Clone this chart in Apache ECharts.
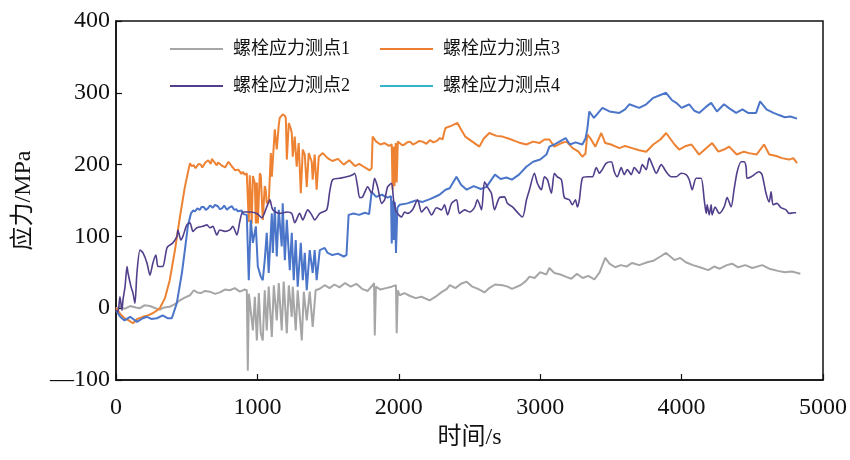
<!DOCTYPE html>
<html>
<head>
<meta charset="utf-8">
<style>
  html, body { margin: 0; padding: 0; background: #fff; }
  #chart { width: 850px; height: 460px; }
</style>
<script src="https://cdn.jsdelivr.net/npm/echarts@6/dist/echarts.min.js"></script>
</head>
<body>
<div id="chart"></div>
<script>
// Series names (legend order: 1, 3 on the first row; 2, 4 on the second)
const names = ['螺栓应力测点1', '螺栓应力测点2', '螺栓应力测点3', '螺栓应力测点4'];

// Axis ticks
const xTicks = [0, 1000, 2000, 3000, 4000, 5000];
const yTicks = [-100, 0, 100, 200, 300, 400];

// Bolt stress readings: [time (s), stress (MPa)]
const point1 = [
  [0,0],[30,2],[60,-1],[100,3],[140,1],[170,0],[200,4],[240,3],[280,0],[310,-2],[340,1],[380,2],
  [420,6],[452,11],[490,15],[523,18],[550,25],[575,22],[600,21],[630,24],[664,23],[700,20],[734,22],
  [770,26],[805,25],[840,28],[876,23],[910,26],[925,25],[932,-87],[940,20],[953,21],[968,-31],[982,16],
  [996,-45],[1010,21],[1024,-35],[1038,-45],[1052,25],[1066,-31],[1080,30],[1102,-40],[1116,32],
  [1137,-17],[1151,35],[1172,-31],[1186,37],[1208,-35],[1222,32],[1243,-12],[1250,30],[1271,-31],
  [1285,25],[1314,-45],[1328,23],[1349,-17],[1370,23],[1391,-26],[1412,25],[1441,27],[1476,32],
  [1510,28],[1545,33],[1580,29],[1620,35],[1660,30],[1700,34],[1740,27],[1780,24],[1815,32],[1825,35],
  [1830,-38],[1838,30],[1870,26],[1910,28],[1950,30],[1980,32],[1985,-35],[1993,25],[2006,18],[2040,21],
  [2080,17],[2120,14],[2160,16],[2218,11],[2260,16],[2300,22],[2340,27],[2360,32],[2400,28],[2440,34],
  [2480,37],[2520,30],[2560,27],[2606,22],[2640,28],[2680,33],[2733,32],[2770,30],[2800,27],[2860,32],
  [2900,38],[2924,44],[2960,42],[3000,50],[3044,47],[3065,56],[3100,49],[3143,47],[3180,44],[3220,41],
  [3260,48],[3300,42],[3340,45],[3383,40],[3420,50],[3460,70],[3490,62],[3530,57],[3570,60],[3610,58],
  [3650,63],[3700,60],[3757,64],[3800,66],[3850,72],[3890,77],[3920,72],[3950,67],[3990,70],[4030,64],
  [4080,60],[4130,57],[4188,53],[4230,58],[4270,55],[4320,60],[4357,62],[4400,57],[4450,60],[4500,56],
  [4570,60],[4620,55],[4680,52],[4730,50],[4780,51],[4840,48]
];

const point2 = [
  [0,-3],[14,-5],[28,16],[42,-3],[49,11],[64,30],[78,58],[85,49],[106,30],[120,21],[134,7],[148,49],
  [170,81],[191,77],[219,63],[240,46],[261,63],[282,74],[297,58],[325,58],[332,58],[360,84],[381,88],
  [403,91],[431,100],[438,109],[459,95],[473,100],[501,116],[523,119],[544,107],[572,112],[614,114],
  [643,116],[664,112],[685,114],[713,102],[734,109],[770,107],[805,109],[826,114],[855,102],[876,121],
  [897,134],[946,134],[996,132],[1031,126],[1066,141],[1088,151],[1109,137],[1158,132],[1208,134],
  [1243,132],[1264,119],[1299,132],[1321,123],[1356,137],[1384,130],[1405,123],[1441,132],[1490,137],
  [1511,162],[1532,179],[1582,181],[1631,183],[1674,186],[1688,188],[1709,169],[1723,154],[1744,155],
  [1780,169],[1808,160],[1829,181],[1850,169],[1879,146],[1900,151],[1921,169],[1949,174],[1963,151],
  [1984,134],[2020,127],[2041,134],[2062,132],[2097,137],[2133,151],[2161,134],[2196,141],[2232,130],
  [2267,140],[2302,137],[2323,144],[2345,130],[2373,146],[2408,151],[2429,132],[2465,137],[2500,134],
  [2535,140],[2556,151],[2585,137],[2606,176],[2627,169],[2655,160],[2677,137],[2712,154],[2747,155],
  [2768,146],[2804,141],[2874,127],[2903,151],[2924,165],[2959,188],[2980,174],[3008,165],[3030,183],
  [3051,179],[3079,160],[3100,188],[3121,183],[3150,179],[3171,154],[3206,151],[3227,144],[3249,151],
  [3263,141],[3277,151],[3298,181],[3333,183],[3369,183],[3397,196],[3418,188],[3439,193],[3467,202],
  [3503,204],[3524,190],[3545,183],[3573,196],[3594,186],[3616,193],[3644,186],[3665,196],[3701,188],
  [3722,200],[3750,193],[3771,209],[3792,200],[3821,188],[3856,200],[3891,190],[3927,183],[3962,183],
  [3997,188],[4032,186],[4054,179],[4075,165],[4103,181],[4138,181],[4160,151],[4174,132],[4181,144],
  [4195,130],[4209,144],[4216,130],[4237,141],[4266,132],[4301,141],[4322,154],[4350,141],[4371,165],
  [4393,190],[4421,204],[4442,204],[4456,197],[4463,181],[4492,183],[4548,190],[4569,186],[4597,160],
  [4619,148],[4633,162],[4647,144],[4675,146],[4703,140],[4739,137],[4760,132],[4795,133],[4810,133]
];

const point3 = [
  [0,0],[30,-8],[60,-14],[90,-17],[120,-21],[150,-15],[190,-12],[225,-10],[260,-7],[290,-3],[310,0],
  [346,14],[380,39],[417,81],[452,127],[487,169],[523,202],[535,198],[550,199],[562,195],[572,197],
  [585,201],[600,200],[610,196],[620,198],[632,203],[642,202],[652,206],[660,205],[670,201],[678,208],
  [690,205],[700,203],[712,199],[722,203],[734,204],[746,199],[760,201],[772,196],[784,200],[795,204],
  [805,204],[818,198],[830,195],[842,192],[854,190],[865,193],[876,191],[887,187],[897,190],[910,186],
  [925,188],[932,190],[939,120],[946,185],[953,183],[960,118],[968,184],[982,174],
  [989,118],[996,175],[1003,118],[1017,188],[1024,185],[1038,123],[1052,170],[1059,165],[1066,146],
  [1073,150],[1080,146],[1095,216],[1102,183],[1123,249],[1137,221],[1151,255],[1158,265],[1179,270],
  [1194,268],[1201,265],[1208,207],[1222,258],[1236,250],[1243,244],[1250,211],[1264,239],[1278,197],
  [1292,230],[1307,160],[1321,221],[1335,214],[1349,169],[1363,216],[1384,204],[1391,179],[1405,214],
  [1419,165],[1434,211],[1462,216],[1497,209],[1530,205],[1570,208],[1610,200],[1650,206],[1690,198],
  [1720,201],[1760,196],[1794,192],[1808,195],[1815,239],[1840,232],[1870,228],[1900,230],[1930,226],
  [1950,228],[1956,165],[1963,225],[1970,170],[1978,230],[1985,175],[1993,232],[2006,230],[2025,227],
  [2040,228],[2060,231],[2080,232],[2100,228],[2120,230],[2145,233],[2168,232],[2195,229],[2220,234],
  [2245,231],[2270,233],[2290,237],[2310,235],[2320,244],[2330,251],[2370,254],[2415,258],
  [2440,249],[2470,239],[2520,232],[2570,225],[2600,236],[2640,244],[2690,240],[2733,239],[2780,236],
  [2820,233],[2860,230],[2902,228],[2950,232],[2994,230],[3030,235],[3065,235],[3100,225],[3150,230],
  [3185,232],[3230,223],[3270,218],[3298,211],[3320,215],[3333,242],[3360,235],[3390,225],[3432,244],
  [3460,230],[3500,228],[3560,223],[3600,226],[3650,223],[3700,220],[3750,218],[3800,228],[3850,235],
  [3891,244],[3920,236],[3950,228],[3983,221],[4030,226],[4070,228],[4124,214],[4170,222],[4216,230],
  [4260,218],[4300,221],[4336,225],[4390,214],[4440,218],[4477,216],[4530,214],[4583,228],[4620,214],
  [4670,212],[4710,209],[4760,207],[4790,209],[4816,202]
];

const point4 = [
  [0,-3],[30,-12],[60,-17],[100,-12],[148,-19],[190,-14],[219,-12],[250,-15],[290,-14],[330,-10],
  [367,-14],[395,-14],[430,7],[466,49],[487,81],[508,114],[530,132],[545,136],[560,135],[575,139],
  [593,137],[605,141],[620,141],[635,137],[650,139],[665,143],[685,140],[700,144],[720,142],[735,138],
  [750,139],[765,143],[784,137],[800,140],[820,142],[835,137],[850,138],[862,135],[876,134],[888,136],
  [900,131],[912,129],[925,130],
  [932,132],[939,39],[953,123],[968,91],[989,114],[1003,58],[1024,44],[1038,39],[1052,67],[1066,105],
  [1080,49],[1102,132],[1109,77],[1123,141],[1137,72],[1151,137],[1172,86],[1179,146],[1194,67],
  [1208,123],[1229,53],[1243,105],[1257,39],[1271,95],[1285,30],[1307,91],[1321,39],[1335,77],[1349,25],
  [1370,81],[1391,49],[1405,81],[1419,39],[1441,81],[1476,84],[1497,77],[1530,74],[1570,76],[1610,72],
  [1630,74],[1645,130],[1680,132],[1720,130],[1760,133],[1790,131],[1808,162],[1840,155],[1880,158],
  [1920,154],[1945,156],[1950,90],[1958,150],[1965,95],[1972,148],[1980,77],[1990,140],[2006,144],
  [2060,146],[2120,150],[2168,148],[2220,152],[2288,158],[2330,165],[2360,167],[2408,183],[2440,172],
  [2480,165],[2530,170],[2580,166],[2620,169],[2680,186],[2720,180],[2761,182],[2800,179],[2850,186],
  [2902,197],[2950,204],[3000,207],[3044,214],[3065,225],[3100,228],[3136,232],[3180,237],[3210,228],
  [3250,231],[3298,228],[3320,236],[3333,249],[3347,274],[3380,265],[3440,279],[3490,274],[3560,272],
  [3600,277],[3630,284],[3700,279],[3750,284],[3800,293],[3850,297],[3890,300],[3930,290],[3962,286],
  [4000,279],[4032,282],[4054,284],[4090,275],[4124,272],[4170,280],[4209,286],[4250,274],[4300,284],
  [4340,278],[4386,272],[4430,277],[4470,272],[4527,272],[4555,288],[4600,277],[4650,272],[4689,269],
  [4730,266],[4770,267],[4816,264]
];

const serif = '"Liberation Serif", "Times New Roman", "Noto Sans CJK SC", serif';

const chart = echarts.init(document.getElementById('chart'), null, { renderer: 'canvas' });

const legendBase = {
  left: 165,
  icon: 'rect',
  itemWidth: 53,
  itemHeight: 2,
  itemGap: 30,
  textStyle: { fontFamily: serif, fontSize: 18, color: '#111', padding: [0, 0, 0, 5] }
};

chart.setOption({
  animation: false,
  backgroundColor: '#fff',
  grid: {
    left: 116, right: 24, top: 21, bottom: 80,
    show: true, borderColor: '#111', borderWidth: 1.5, backgroundColor: 'transparent'
  },
  legend: [
    Object.assign({}, legendBase, { top: 35, data: [names[0], names[2]] }),
    Object.assign({}, legendBase, {
      top: 72,
      data: [names[1], { name: names[3], itemStyle: { color: '#35b3c8' } }]
    })
  ],
  xAxis: {
    type: 'value',
    min: xTicks[0], max: xTicks[xTicks.length - 1], interval: 1000,
    name: '时间/s', nameLocation: 'middle', nameGap: 46,
    nameTextStyle: { fontFamily: serif, fontSize: 24, color: '#111' },
    axisLine: { show: true, onZero: false, lineStyle: { color: '#111', width: 1.5 } },
    axisTick: { show: true, inside: true, length: 6, lineStyle: { color: '#111', width: 1.2 } },
    axisLabel: { margin: 16, fontFamily: serif, fontSize: 24, color: '#111', formatter: v => String(v) },
    splitLine: { show: false }
  },
  yAxis: {
    type: 'value',
    min: yTicks[0], max: yTicks[yTicks.length - 1], interval: 100,
    name: '应力/MPa', nameLocation: 'middle', nameGap: 80, nameRotate: 90,
    nameTextStyle: { fontFamily: serif, fontSize: 24, color: '#111' },
    axisLine: { show: true, onZero: false, lineStyle: { color: '#111', width: 1.5 } },
    axisTick: { show: true, inside: true, length: 6, lineStyle: { color: '#111', width: 1.2 } },
    axisLabel: {
      margin: 6, fontFamily: serif, fontSize: 24, color: '#111',
      formatter: v => (v < 0 ? '—' + Math.abs(v) : String(v))
    },
    splitLine: { show: false }
  },
  series: [
    { name: names[0], type: 'line', data: point1, showSymbol: false, z: 2,
      color: '#a6a6a6', lineStyle: { width: 2, color: '#a6a6a6' } },
    { name: names[2], type: 'line', data: point3, showSymbol: false, z: 3,
      color: '#ed7d31', lineStyle: { width: 2, color: '#ee8233' } },
    { name: names[3], type: 'line', data: point4, showSymbol: false, z: 4,
      color: '#35b3c8', lineStyle: { width: 2, color: '#4a75c9' } },
    { name: names[1], type: 'line', data: point2, showSymbol: false, smooth: 0.25, z: 5,
      color: '#523f8b', lineStyle: { width: 1.6, color: '#523f8b' } }
  ]
});
</script>
</body>
</html>
